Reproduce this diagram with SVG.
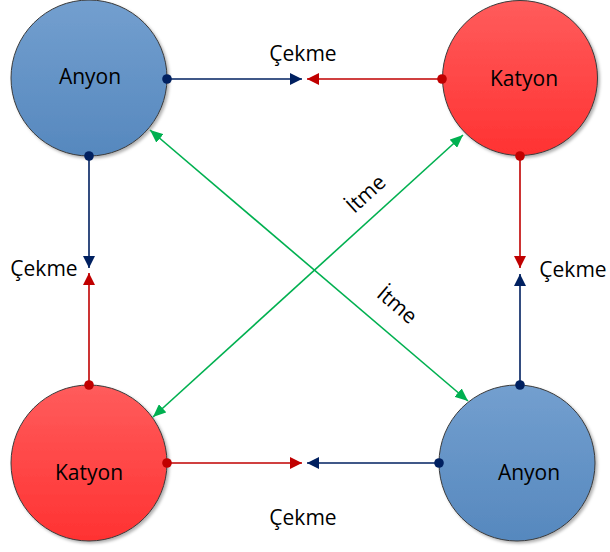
<svg xmlns="http://www.w3.org/2000/svg" width="610" height="552" viewBox="0 0 610 552">
  <defs>
    <linearGradient id="gBlue" x1="0" y1="0" x2="0" y2="1">
      <stop offset="0" stop-color="#739fcf"/>
      <stop offset="1" stop-color="#5688be"/>
    </linearGradient>
    <linearGradient id="gRed" x1="0" y1="0" x2="0" y2="1">
      <stop offset="0" stop-color="#ff5c5c"/>
      <stop offset="1" stop-color="#ff3232"/>
    </linearGradient>
    <filter id="shadow" x="-20%" y="-20%" width="140%" height="140%">
      <feDropShadow dx="2" dy="2" stdDeviation="1.5" flood-color="#000" flood-opacity="0.3"/>
    </filter>
    <marker id="arrBlue" markerUnits="userSpaceOnUse" viewBox="0 0 12 12" refX="12" refY="6" markerWidth="12" markerHeight="12" orient="auto">
      <path d="M0,0 L12,6 L0,12 Z" fill="#002060"/>
    </marker>
    <marker id="arrRed" markerUnits="userSpaceOnUse" viewBox="0 0 12 12" refX="12" refY="6" markerWidth="12" markerHeight="12" orient="auto">
      <path d="M0,0 L12,6 L0,12 Z" fill="#c00000"/>
    </marker>
    <marker id="arrGreen" markerUnits="userSpaceOnUse" viewBox="0 0 13 11" refX="13" refY="5.5" markerWidth="13" markerHeight="11" orient="auto-start-reverse">
      <path d="M0,0 L13,5.5 L0,11 Z" fill="#00b050"/>
    </marker>
    <marker id="dotBlue" markerUnits="userSpaceOnUse" viewBox="0 0 10 10" refX="5" refY="5" markerWidth="10" markerHeight="10">
      <circle cx="5" cy="5" r="4.8" fill="#002060"/>
    </marker>
    <marker id="dotRed" markerUnits="userSpaceOnUse" viewBox="0 0 10 10" refX="5" refY="5" markerWidth="10" markerHeight="10">
      <circle cx="5" cy="5" r="4.8" fill="#c00000"/>
    </marker>
  </defs>
  <style>
    .ion { stroke: #3a3a3a; stroke-width: 1; filter: url(#shadow); }
    .anyon { fill: url(#gBlue); }
    .katyon { fill: url(#gRed); }
    text { font-family: "Open Sans", "Liberation Sans", sans-serif; font-size: 21px; fill: #000; }
    .c { text-anchor: middle; }
    .blue { stroke: #002060; stroke-width: 1.6; fill: none; marker-start: url(#dotBlue); marker-end: url(#arrBlue); }
    .red { stroke: #c00000; stroke-width: 1.6; fill: none; marker-start: url(#dotRed); marker-end: url(#arrRed); }
    .green { stroke: #00b050; stroke-width: 1.6; fill: none; marker-start: url(#arrGreen); marker-end: url(#arrGreen); }
  </style>

  <rect width="610" height="552" fill="#ffffff"/>

  <!-- ions -->
  <g id="anyon-top-left">
    <circle class="ion anyon" cx="89" cy="78" r="78"/>
    <text class="c" x="90" y="84">Anyon</text>
  </g>
  <g id="katyon-top-right">
    <circle class="ion katyon" cx="520" cy="78" r="77.5"/>
    <text class="c" x="524" y="86">Katyon</text>
  </g>
  <g id="katyon-bottom-left">
    <circle class="ion katyon" cx="89" cy="463" r="78"/>
    <text class="c" x="89" y="480">Katyon</text>
  </g>
  <g id="anyon-bottom-right">
    <circle class="ion anyon" cx="517" cy="463" r="78"/>
    <text class="c" x="529" y="480">Anyon</text>
  </g>

  <!-- forces between ions -->
  <g id="connectors">
    <path class="blue" d="M167,79 H302"/>
    <path class="red" d="M442,79 H307"/>
    <path class="blue" d="M89,156 V268"/>
    <path class="red" d="M89,385 V273"/>
    <path class="red" d="M520,156 V268"/>
    <path class="blue" d="M520,385 V274"/>
    <path class="red" d="M167,463 H302"/>
    <path class="blue" d="M439,463 H307"/>
    <path class="green" d="M153,417 L463,135"/>
    <path class="green" d="M150,130 L468,401"/>
  </g>

  <!-- labels -->
  <g id="labels">
    <text class="c" x="303" y="61">Çekme</text>
    <text class="c" x="44" y="276">Çekme</text>
    <text class="c" x="573" y="277">Çekme</text>
    <text class="c" x="303" y="525">Çekme</text>
    <text class="c" transform="translate(366,194) rotate(-42.3)" y="7">İtme</text>
    <text class="c" transform="translate(397,305) rotate(40.4)" y="7">İtme</text>
  </g>
</svg>
